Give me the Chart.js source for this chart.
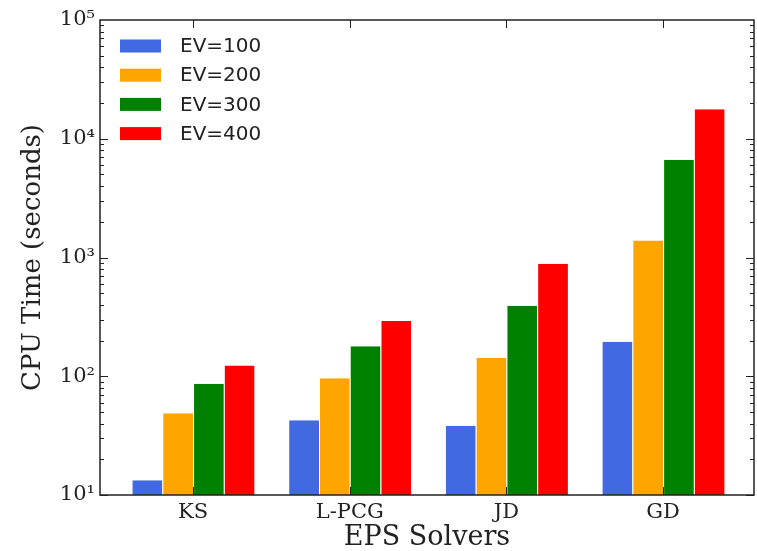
<!DOCTYPE html>
<html><head><meta charset="utf-8">
<script src="https://cdn.jsdelivr.net/npm/chart.js@4/dist/chart.umd.min.js"></script>
<style>html,body{margin:0;padding:0;background:#fff}</style>
</head><body>
<canvas id="c" width="757" height="551"></canvas>
<script>
// Solver timings (CPU seconds) for different eigenvalue counts
const solvers = ['KS', 'L-PCG', 'JD', 'GD'];
const ev100 = [13.3, 42.6, 38.3, 195];
const ev200 = [48.8, 96, 143, 1390];
const ev300 = [86.5, 179, 393, 6670];
const ev400 = [123, 292, 887, 17700];
const seriesNames = ['EV=100', 'EV=200', 'EV=300', 'EV=400'];
const seriesColors = ['#4169E1', '#FFA500', '#008000', '#FF0000'];
const yTickValues = [10, 100, 1000, 10000, 100000];
const yTickLabels = ['10¹', '10²', '10³', '10⁴', '10⁵'];

const allSeries = [ev100, ev200, ev300, ev400];
const datasets = allSeries.map((vals, k) => ({
  label: seriesNames[k],
  data: vals.map((v, i) => ({ x: i, y: v })),
  backgroundColor: seriesColors[k],
  borderColor: 'rgba(255,255,255,0.85)',
  borderWidth: { left: 1, right: 0, top: 0, bottom: 0 },
  borderSkipped: false,
  categoryPercentage: 0.785,
  barPercentage: 1.0
}));

const INK = '#222';

// Axes frame with inward major/minor ticks
const framePlugin = {
  id: 'frame',
  afterDraw(chart) {
    const { ctx, chartArea: a, scales: { x, y } } = chart;
    ctx.save();
    ctx.strokeStyle = INK;
    ctx.lineWidth = 1;
    for (let d = 1; d <= 4; d++) {
      for (let m = 1; m <= 9; m++) {
        const v = m * Math.pow(10, d);
        if (v < y.min || v > y.max) continue;
        const py = Math.round(y.getPixelForValue(v)) + 0.5;
        const len = m === 1 ? 8 : 4;
        ctx.beginPath();
        ctx.moveTo(a.left, py); ctx.lineTo(a.left + len, py);
        ctx.moveTo(a.right, py); ctx.lineTo(a.right - len, py);
        ctx.stroke();
      }
    }
    solvers.forEach((_, i) => {
      const px = Math.round(x.getPixelForValue(i)) + 0.5;
      ctx.beginPath();
      ctx.moveTo(px, a.bottom); ctx.lineTo(px, a.bottom - 8);
      ctx.moveTo(px, a.top); ctx.lineTo(px, a.top + 8);
      ctx.stroke();
    });
    ctx.lineWidth = 1.5;
    ctx.strokeRect(a.left, a.top, a.right - a.left, a.bottom - a.top);
    ctx.restore();
  }
};

// Legend drawn in the upper-left corner of the plot
const legendPlugin = {
  id: 'innerLegend',
  afterDraw(chart) {
    const { ctx, chartArea: a } = chart;
    ctx.save();
    ctx.font = '20px "DejaVu Sans"';
    ctx.textBaseline = 'middle';
    chart.data.datasets.forEach((ds, k) => {
      const cy = a.top + 26 + k * 29.2;
      ctx.fillStyle = ds.backgroundColor;
      ctx.fillRect(a.left + 20, cy - 6.5, 41, 13);
      ctx.fillStyle = INK;
      ctx.fillText(ds.label, a.left + 80, cy + 1);
    });
    ctx.restore();
  }
};

new Chart(document.getElementById('c'), {
  type: 'bar',
  data: { datasets },
  plugins: [framePlugin, legendPlugin],
  options: {
    responsive: false,
    animation: false,
    devicePixelRatio: 1,
    layout: { padding: { top: 20, right: 3, left: 0, bottom: 0 } },
    plugins: { legend: { display: false }, tooltip: { enabled: false } },
    scales: {
      x: {
        type: 'linear',
        offset: false,
        min: -0.594,
        max: 3.58,
        grid: { display: false, drawTicks: false, offset: false },
        border: { display: false },
        afterBuildTicks: s => { s.ticks = solvers.map((_, i) => ({ value: i })); },
        afterFit: s => { s.height = 56; },
        ticks: {
          padding: 5,
          color: INK,
          font: { family: 'DejaVu Serif', size: 21 },
          callback: v => solvers[v] ?? ''
        },
        title: {
          display: true,
          text: 'EPS Solvers',
          color: INK,
          font: { family: 'DejaVu Serif', size: 27, lineHeight: 1 },
          padding: { top: 0, bottom: 0 }
        }
      },
      y: {
        type: 'logarithmic',
        min: 10,
        max: 100000,
        grid: { display: false, drawTicks: false },
        border: { display: false },
        afterBuildTicks: s => { s.ticks = yTickValues.map(v => ({ value: v, major: true })); },
        afterFit: s => { s.width = 100; },
        ticks: {
          padding: 5,
          color: INK,
          font: { family: 'DejaVu Serif', size: 21 },
          callback: v => yTickLabels[yTickValues.indexOf(v)] ?? ''
        },
        title: {
          display: true,
          text: 'CPU Time (seconds)',
          color: INK,
          font: { family: 'DejaVu Serif', size: 26, lineHeight: 1.2 },
          padding: { top: 18, bottom: 0 }
        }
      }
    }
  }
});
</script>
</body></html>
